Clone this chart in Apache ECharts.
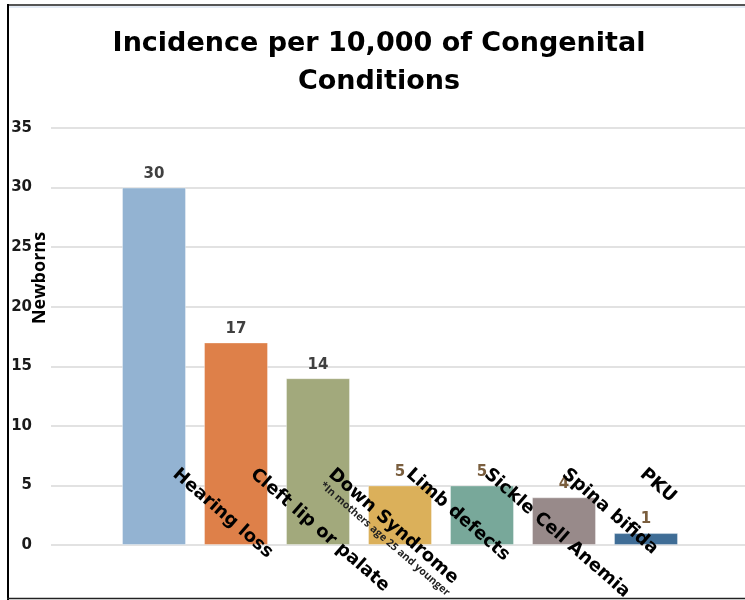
<!DOCTYPE html>
<html>
<head>
<meta charset="utf-8">
<script src="https://cdn.jsdelivr.net/npm/echarts@6/dist/echarts.min.js"></script>
<style>html,body{margin:0;padding:0;background:#fff}#chart{width:745px;height:600px}</style>
</head>
<body>
<div id="chart"></div>
<script>
const titleText = 'Incidence per 10,000 of Congenital\nConditions';
const yAxisName = 'Newborns';
const categories = ['Hearing loss', 'Cleft lip or palate', 'Down Syndrome', 'Limb defects', 'Sickle Cell Anemia', 'Spina bifida', 'PKU'];
const values = [30, 17, 14, 5, 5, 4, 1];
const footnoteCategory = 'Down Syndrome';
const footnote = '*In mothers age 25 and younger';
const yMin = 0, yMax = 35, yStep = 5;
const palette = ['#93B3D2', '#DE8049', '#A2A97C', '#DBB05A', '#78A89A', '#988A8A', '#3F6D96'];

const chart = echarts.init(document.getElementById('chart'), null, {renderer: 'canvas'});

const barData = values.map((v, i) => ({
  value: v,
  itemStyle: {color: palette[i]},
  label: i >= 3 ? {color: '#7a5e3e', textShadowColor: 'rgba(91,155,213,0.9)', textShadowOffsetX: 1.5, textShadowBlur: 0} : {}
}));

const option = {
  backgroundColor: '#fff',
  animation: false,
  title: {
    text: titleText,
    left: 379,
    top: 25,
    textAlign: 'center',
    padding: 0,
    textStyle: {fontFamily: 'DejaVu Sans', fontWeight: 'bold', fontSize: 27, color: '#000', lineHeight: 38}
  },
  grid: [
    {left: 51, right: 0, top: 128, height: 417, outerBoundsMode: 'none', containLabel: false},
    {left: 113, width: 574, top: 128, height: 417, outerBoundsMode: 'none', containLabel: false},
    {left: 136, width: 545, top: 128, height: 417, outerBoundsMode: 'none', containLabel: false}
  ],
  xAxis: [
    {gridIndex: 0, type: 'value', min: 0, max: 1, show: false},
    {
      gridIndex: 1, type: 'category', data: categories,
      axisLine: {show: false}, axisTick: {show: false}, splitLine: {show: false}, axisLabel: {show: false}
    },
    {
      gridIndex: 2, type: 'category', data: categories, z: 10,
      axisLine: {show: false}, axisTick: {show: false}, splitLine: {show: false},
      axisLabel: {
        interval: 0, hideOverlap: false, rotate: -41, align: 'left', verticalAlign: 'top',
        margin: -85, padding: [0, 0, 0, 8],
        fontFamily: 'DejaVu Sans', fontWeight: 'bold', fontSize: 18, color: '#000',
        formatter: (v) => v === footnoteCategory ? v + '\n{s|' + footnote + '}' : v,
        rich: {s: {fontFamily: 'Open Sans', fontWeight: 'bold', fontSize: 10.5, color: '#222', padding: [0, 0, 0, 1], lineHeight: 12}}
      }
    }
  ],
  yAxis: [
    {
      gridIndex: 0, type: 'value', min: yMin, max: yMax, interval: yStep,
      name: yAxisName, nameLocation: 'middle', nameRotate: 90, nameGap: 2, nameMoveOverlap: false,
      nameTextStyle: {fontFamily: 'Open Sans', fontWeight: 'bold', fontSize: 18, color: '#000', padding: [0, 0, 0, 117]},
      axisLine: {show: false}, axisTick: {show: false},
      axisLabel: {margin: 19, fontFamily: 'DejaVu Sans', fontWeight: 'bold', fontSize: 15, color: '#1a1a1a'},
      splitLine: {show: true, lineStyle: {color: '#d9d9d9', width: 1.5}}
    },
    {gridIndex: 1, type: 'value', min: yMin, max: yMax, interval: yStep, show: false, splitLine: {show: false}},
    {gridIndex: 2, type: 'value', min: yMin, max: yMax, interval: yStep, show: false, splitLine: {show: false}}
  ],
  series: [{
    type: 'bar',
    xAxisIndex: 1, yAxisIndex: 1,
    barWidth: 64,
    data: barData,
    itemStyle: {borderColor: 'rgba(255,255,255,0.35)', borderWidth: 1},
    label: {show: true, position: 'top', distance: 6, fontFamily: 'DejaVu Sans', fontWeight: 'bold', fontSize: 15, color: '#404040'}
  }],
  graphic: [
    {type: 'line', z: 100, shape: {x1: 7, y1: 5, x2: 745, y2: 5}, style: {stroke: '#555', lineWidth: 2}},
    {type: 'line', z: 100, shape: {x1: 9, y1: 7, x2: 745, y2: 7}, style: {stroke: '#c9d7ea', lineWidth: 1}},
    {type: 'line', z: 100, shape: {x1: 8, y1: 4, x2: 8, y2: 600}, style: {stroke: '#000', lineWidth: 2}},
    {type: 'line', z: 100, shape: {x1: 7, y1: 598.5, x2: 745, y2: 598.5}, style: {stroke: '#222', lineWidth: 1.5}}
  ]
};
chart.setOption(option);
</script>
</body>
</html>
